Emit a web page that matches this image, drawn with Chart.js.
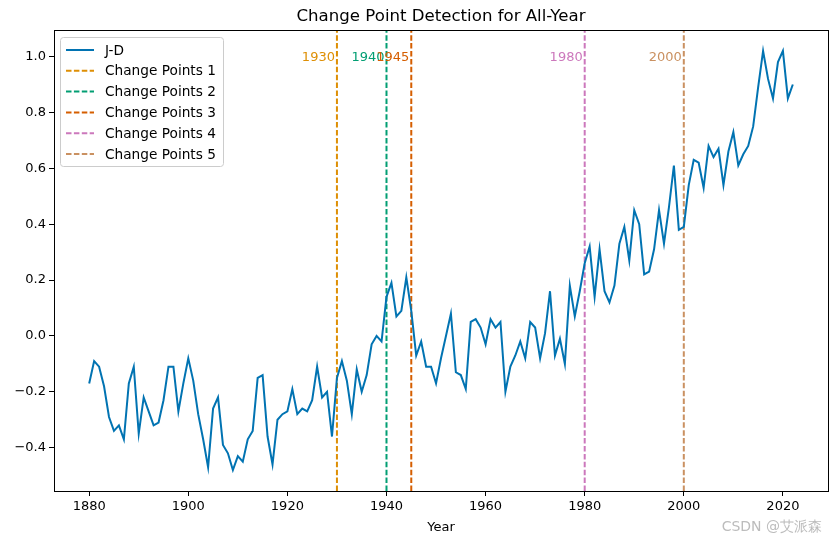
<!DOCTYPE html>
<html>
<head>
<meta charset="utf-8">
<script src="https://cdn.jsdelivr.net/npm/chart.js@4"></script>
<style>
    html, body { margin: 0; padding: 0; background: #fff; }
    #wrap { width: 838px; height: 545px; position: relative; }
</style>
</head>
<body>
<div id="wrap"><canvas id="cpdChart" width="838" height="545"></canvas></div>
<script>
// annual J-D anomalies, 1880..2022
const firstYear = 1880;
const jdValues = [
    -0.17, -0.09, -0.11, -0.18, -0.29, -0.34, -0.32, -0.37, -0.17, -0.11,
    -0.35, -0.22, -0.27, -0.32, -0.31, -0.23, -0.11, -0.11, -0.27, -0.17,
    -0.08, -0.16, -0.28, -0.37, -0.47, -0.26, -0.22, -0.39, -0.42, -0.48,
    -0.43, -0.45, -0.37, -0.34, -0.15, -0.14, -0.36, -0.46, -0.30, -0.28,
    -0.27, -0.19, -0.28, -0.26, -0.27, -0.23, -0.11, -0.22, -0.20, -0.36,
    -0.15, -0.09, -0.16, -0.28, -0.12, -0.20, -0.14, -0.03, 0.00, -0.02,
    0.14, 0.19, 0.07, 0.09, 0.21, 0.09, -0.07, -0.02, -0.11, -0.11,
    -0.17, -0.08, 0.00, 0.08, -0.13, -0.14, -0.19, 0.05, 0.06, 0.03,
    -0.03, 0.06, 0.03, 0.05, -0.20, -0.11, -0.07, -0.02, -0.08, 0.05,
    0.03, -0.08, 0.01, 0.16, -0.07, -0.01, -0.10, 0.18, 0.07, 0.16,
    0.26, 0.32, 0.14, 0.31, 0.16, 0.12, 0.18, 0.33, 0.39, 0.27,
    0.45, 0.40, 0.22, 0.23, 0.31, 0.45, 0.33, 0.46, 0.61, 0.38,
    0.39, 0.54, 0.63, 0.62, 0.53, 0.68, 0.64, 0.67, 0.54, 0.66,
    0.73, 0.61, 0.65, 0.68, 0.75, 0.89, 1.02, 0.92, 0.85, 0.98,
    1.02, 0.85, 0.90
];
const years = jdValues.map((_, i) => firstYear + i);

const changeYears = [1930, 1940, 1945, 1980, 2000];
const changeColors = ['#de8f05', '#029e73', '#d55e00', '#cc78bc', '#ca9161'];
const changeNames = ['Change Points 1', 'Change Points 2', 'Change Points 3', 'Change Points 4', 'Change Points 5'];

const xTicks = [1880, 1900, 1920, 1940, 1960, 1980, 2000, 2020];
const yTicks = [-0.4, -0.2, 0.0, 0.2, 0.4, 0.6, 0.8, 1.0];

const lineColor = '#0173b2';
const fontFamily = '"DejaVu Sans", sans-serif';

// matplotlib-style 5% margins
const xMin = 1872.9, xMax = 2029.1;
const yMin = -0.555, yMax = 1.095;

const datasets = [{
    label: 'J-D',
    data: years.map((yr, i) => ({ x: yr, y: jdValues[i] })),
    borderColor: lineColor,
    borderWidth: 2,
    pointRadius: 0,
    tension: 0,
    fill: false
}];

changeYears.forEach((yr, i) => {
    datasets.push({
        label: changeNames[i],
        data: [{ x: yr, y: yMin }, { x: yr, y: yMax }],
        borderColor: changeColors[i],
        borderWidth: 2,
        borderDash: [5.5, 2.4],
        pointRadius: 0,
        fill: false
    });
});

const extrasPlugin = {
    id: 'extras',
    afterDatasetsDraw(chart) {
        const ctx = chart.ctx;
        const area = chart.chartArea;
        const xs = chart.scales.x;
        const ys = chart.scales.y;

        // year labels next to change lines
        ctx.save();
        ctx.font = '13px ' + fontFamily;
        ctx.textAlign = 'right';
        ctx.textBaseline = 'middle';
        changeYears.forEach((yr, i) => {
            ctx.fillStyle = changeColors[i];
            ctx.fillText(String(yr), xs.getPixelForValue(yr) - 2, ys.getPixelForValue(1.0) + 1);
        });
        ctx.restore();

        // legend box
        ctx.save();
        const lx = 60.5, ly = 37.5, lw = 163, lh = 129;
        ctx.fillStyle = 'rgba(255,255,255,0.8)';
        ctx.strokeStyle = '#cccccc';
        ctx.lineWidth = 1;
        ctx.beginPath();
        ctx.roundRect(lx, ly, lw, lh, 3);
        ctx.fill();
        ctx.stroke();
        ctx.font = '13.7px ' + fontFamily;
        ctx.textAlign = 'left';
        ctx.textBaseline = 'middle';
        chart.data.datasets.forEach((ds, i) => {
            const rowY = 50 + i * 20.8;
            ctx.strokeStyle = ds.borderColor;
            ctx.lineWidth = 2;
            ctx.setLineDash(ds.borderDash || []);
            ctx.beginPath();
            ctx.moveTo(66, rowY);
            ctx.lineTo(94, rowY);
            ctx.stroke();
            ctx.setLineDash([]);
            ctx.fillStyle = '#000';
            ctx.fillText(ds.label, 105, rowY + 1);
        });
        ctx.restore();

        // frame (all four spines)
        ctx.save();
        ctx.strokeStyle = '#000';
        ctx.lineWidth = 1;
        ctx.strokeRect(Math.round(area.left) + 0.5, Math.round(area.top) + 0.5,
            Math.round(area.right - area.left), Math.round(area.bottom - area.top));
        ctx.restore();

        // title
        ctx.save();
        ctx.font = '16.6px ' + fontFamily;
        ctx.fillStyle = '#000';
        ctx.textAlign = 'center';
        ctx.textBaseline = 'middle';
        ctx.fillText('Change Point Detection for All-Year', (area.left + area.right) / 2, 17);
        ctx.restore();

        // watermark
        ctx.save();
        ctx.font = '14px ' + fontFamily;
        ctx.fillStyle = 'rgba(160,160,160,0.7)';
        ctx.textAlign = 'right';
        ctx.textBaseline = 'middle';
        ctx.fillText('CSDN @艾派森', 822, 527);
        ctx.restore();
    }
};

new Chart(document.getElementById('cpdChart'), {
    type: 'line',
    data: { datasets: datasets },
    options: {
        responsive: false,
        animation: false,
        devicePixelRatio: 1,
        layout: { padding: { top: 30, right: 10, left: 0, bottom: 0 } },
        plugins: {
            legend: { display: false },
            tooltip: { enabled: false }
        },
        scales: {
            x: {
                type: 'linear',
                min: xMin,
                max: xMax,
                afterBuildTicks: (scale) => { scale.ticks = xTicks.map(v => ({ value: v })); },
                afterFit: (scale) => { scale.height = 54; },
                grid: { drawOnChartArea: false, tickLength: 5, color: '#000' },
                border: { color: '#000' },
                ticks: {
                    color: '#000',
                    font: { family: fontFamily, size: 13 },
                    padding: 3,
                    maxRotation: 0,
                    callback: (v) => String(v)
                },
                title: {
                    display: true,
                    text: 'Year',
                    color: '#000',
                    font: { family: fontFamily, size: 13 },
                    padding: { top: 0, bottom: 10 }
                }
            },
            y: {
                type: 'linear',
                min: yMin,
                max: yMax,
                afterBuildTicks: (scale) => { scale.ticks = yTicks.map(v => ({ value: v })); },
                afterFit: (scale) => { scale.width = 54; },
                grid: { drawOnChartArea: false, tickLength: 5, color: '#000' },
                border: { color: '#000' },
                ticks: {
                    color: '#000',
                    font: { family: fontFamily, size: 13 },
                    padding: 3,
                    callback: (v) => (v < 0 ? '\u2212' : '') + Math.abs(v).toFixed(1)
                }
            }
        }
    },
    plugins: [extrasPlugin]
});
</script>
</body>
</html>
